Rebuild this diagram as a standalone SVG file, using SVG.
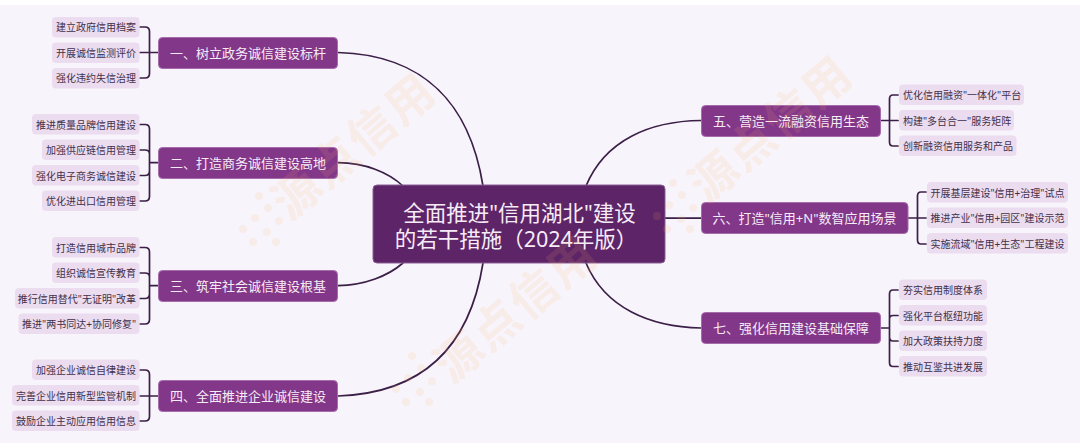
<svg xmlns="http://www.w3.org/2000/svg" width="1080" height="448" viewBox="0 0 1080 448">
<defs>
<style>
text{font-family:"Noto Sans","Noto Sans CJK SC",sans-serif}
.leaf rect{fill:#ecdcef}
.leaf text{font-size:10px;fill:#42304a;dominant-baseline:central}
.main rect{fill:#833789;stroke:#a56cab;stroke-width:1}
.main text{font-size:13px;fill:#f6ecf7;text-anchor:middle;dominant-baseline:central}
.l text{text-anchor:end}
.con path{fill:none;stroke:#3b1f47;stroke-width:1.7;stroke-linecap:round}
.wt{font-size:47px;font-weight:700;fill:#ffb066;text-anchor:middle;dominant-baseline:central;letter-spacing:2px}
.wd circle{fill:#ffb066;r:4px}
</style>
<g id="wdots" class="wd"><circle cx="259" cy="196"/><circle cx="268" cy="208"/><circle cx="279" cy="221"/><circle cx="255" cy="218"/><circle cx="267" cy="232"/><circle cx="243" cy="229"/><circle cx="253" cy="242"/><circle cx="276" cy="242"/></g>
</defs>
<rect width="1080" height="448" fill="#fff"/>
<rect y="5" width="1080" height="438" fill="#f8f4fb"/>
<g id="connectors" class="con">
<path d="M338 52.500C425 55 470 105 483 186"/>
<path d="M338 162.700C365 163 388 172 403 186"/>
<path d="M338 285.700C365 285 388 276 403 263"/>
<path d="M338 396C425 393 470 345 483 263"/>
<path d="M701 120.500C650 121 605 140 586 186"/>
<path d="M665 218.200H702"/>
<path d="M701 328C650 327 605 308 586 263"/>
<path d="M158 52.500H140M140 27H145Q149.500 27 149.500 31.500V73.500Q149.500 78 145 78H140"/>
<path d="M158 162.700H149.500M140 124.500H145Q149.500 124.500 149.500 129V196.500Q149.500 201 145 201H140M140 150H145Q149.500 150 149.500 154M140 175.500H145Q149.500 175.500 149.500 171"/>
<path d="M158 285.700H149.500M140 247.500H145Q149.500 247.500 149.500 252V319.500Q149.500 324 145 324H140M140 273H145Q149.500 273 149.500 277M140 298.500H145Q149.500 298.500 149.500 294"/>
<path d="M158 396H140M140 370H145Q149.500 370 149.500 374.500V416.500Q149.500 421 145 421H140"/>
<path d="M880 120.500H898M898 95H893Q889.500 95 889.500 99V142Q889.500 146 893 146H898"/>
<path d="M908 218H926M926 192H921Q917.500 192 917.500 196V240Q917.500 244 921 244H926"/>
<path d="M880 328H889.500M898 290H893Q889.500 290 889.500 294V362.500Q889.500 366.500 893 366.500H898M898 315.500H893Q889.500 315.500 889.500 319M898 341H893Q889.500 341 889.500 337"/>
</g>
<g id="center"><rect x="373" y="185" width="292" height="78" rx="4" fill="#5e2468" stroke="#8a5f95" stroke-width="1"/>
<text x="519.500" y="212" font-size="21.500" fill="#f6ecf7" text-anchor="middle" dominant-baseline="central">全面推进"信用湖北"建设</text>
<text x="516" y="238.500" font-size="21.500" fill="#f6ecf7" text-anchor="middle" dominant-baseline="central">的若干措施（2024年版）</text></g>
<g id="m1" class="main"><rect x="158.500" y="37.500" width="179" height="31" rx="4"/><text x="248" y="52.500">一、树立政务诚信建设标杆</text></g>
<g id="m2" class="main"><rect x="158.500" y="147.500" width="179" height="31" rx="4"/><text x="248" y="162.500">二、打造商务诚信建设高地</text></g>
<g id="m3" class="main"><rect x="158.500" y="270.500" width="179" height="31" rx="4"/><text x="248" y="285.500">三、筑牢社会诚信建设根基</text></g>
<g id="m4" class="main"><rect x="158.500" y="380.500" width="179" height="31" rx="4"/><text x="248" y="395.500">四、全面推进企业诚信建设</text></g>
<g id="m5" class="main"><rect x="701.500" y="105.500" width="179" height="31" rx="4"/><text x="791" y="120.500">五、营造一流融资信用生态</text></g>
<g id="m6" class="main"><rect x="701.500" y="202.500" width="206.500" height="31" rx="4"/><text x="804.500" y="217.500">六、打造"信用+N"数智应用场景</text></g>
<g id="m7" class="main"><rect x="701.500" y="312.500" width="179" height="31" rx="4"/><text x="791" y="327.500">七、强化信用建设基础保障</text></g>
<g class="leaf l">
<g id="a1"><rect x="52" y="17" width="87.500" height="20.500" rx="4"/><text x="136" y="27">建立政府信用档案</text></g>
<g id="a2"><rect x="52" y="42.500" width="87.500" height="20.500" rx="4"/><text x="136" y="52.500">开展诚信监测评价</text></g>
<g id="a3"><rect x="52" y="68" width="87.500" height="20.500" rx="4"/><text x="136" y="78">强化违约失信治理</text></g>
<g id="b1"><rect x="32" y="114" width="107.500" height="20.500" rx="4"/><text x="136" y="124.500">推进质量品牌信用建设</text></g>
<g id="b2"><rect x="42" y="139.500" width="97.500" height="20.500" rx="4"/><text x="136" y="150">加强供应链信用管理</text></g>
<g id="b3"><rect x="32" y="165" width="107.500" height="20.500" rx="4"/><text x="136" y="175.500">强化电子商务诚信建设</text></g>
<g id="b4"><rect x="42" y="190.500" width="97.500" height="20.500" rx="4"/><text x="136" y="201">优化进出口信用管理</text></g>
<g id="c1"><rect x="52" y="237" width="87.500" height="20.500" rx="4"/><text x="136" y="247.500">打造信用城市品牌</text></g>
<g id="c2"><rect x="52" y="262.500" width="87.500" height="20.500" rx="4"/><text x="136" y="273">组织诚信宣传教育</text></g>
<g id="c3"><rect x="15" y="288" width="124.500" height="20.500" rx="4"/><text x="136" y="298.500">推行信用替代"无证明"改革</text></g>
<g id="c4"><rect x="18.500" y="313.500" width="121" height="20.500" rx="4"/><text x="136" y="324">推进"两书同达+协同修复"</text></g>
<g id="d1"><rect x="32" y="359.500" width="107.500" height="20.500" rx="4"/><text x="136" y="370">加强企业诚信自律建设</text></g>
<g id="d2"><rect x="12" y="385" width="127.500" height="20.500" rx="4"/><text x="136" y="395.500">完善企业信用新型监管机制</text></g>
<g id="d3"><rect x="12" y="410.500" width="127.500" height="20.500" rx="4"/><text x="136" y="421">鼓励企业主动应用信用信息</text></g>
</g>
<g class="leaf">
<g id="e1"><rect x="899" y="84.500" width="125" height="20.500" rx="4"/><text x="903" y="95">优化信用融资"一体化"平台</text></g>
<g id="e2"><rect x="899" y="110" width="115" height="20.500" rx="4"/><text x="903" y="120.500">构建"多台合一"服务矩阵</text></g>
<g id="e3"><rect x="899" y="135.500" width="117.500" height="20.500" rx="4"/><text x="903" y="146">创新融资信用服务和产品</text></g>
<g id="f1"><rect x="927" y="182" width="141" height="20.500" rx="4"/><text x="930.500" y="192.500">开展基层建设"信用+治理"试点</text></g>
<g id="f2"><rect x="927" y="207.500" width="141" height="20.500" rx="4"/><text x="930.500" y="218">推进产业"信用+园区"建设示范</text></g>
<g id="f3"><rect x="927" y="233" width="141" height="20.500" rx="4"/><text x="930.500" y="243.500">实施流域"信用+生态"工程建设</text></g>
<g id="g1"><rect x="899" y="279.500" width="88" height="20.500" rx="4"/><text x="903" y="290">夯实信用制度体系</text></g>
<g id="g2"><rect x="899" y="305" width="88" height="20.500" rx="4"/><text x="903" y="315.500">强化平台枢纽功能</text></g>
<g id="g3"><rect x="899" y="330.500" width="88" height="20.500" rx="4"/><text x="903" y="341">加大政策扶持力度</text></g>
<g id="g4"><rect x="899" y="356" width="88" height="20.500" rx="4"/><text x="903" y="366.500">推动互鉴共进发展</text></g>
</g>
<g id="watermark" opacity="0.12">
<text class="wt" transform="translate(353 145) rotate(-40)">源点信用</text><use href="#wdots"/>
<text class="wt" transform="translate(515 308) rotate(-40)">源点信用</text><use href="#wdots" x="153" y="160"/>
<text class="wt" transform="translate(770 128) rotate(-40)">源点信用</text><use href="#wdots" x="414" y="-13"/>
</g>
</svg>
